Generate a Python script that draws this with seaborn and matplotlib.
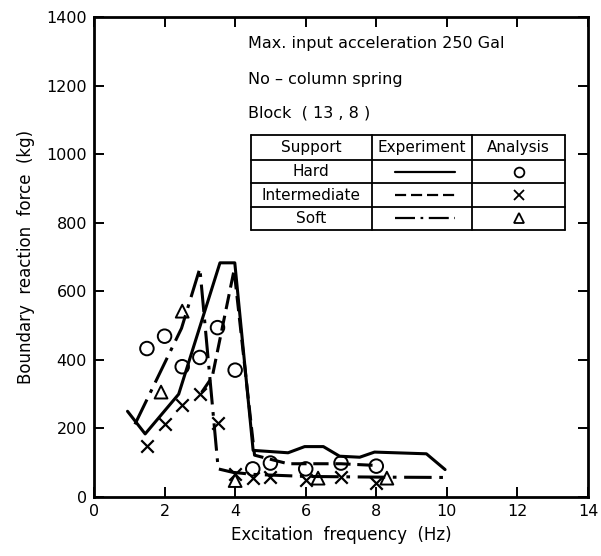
import matplotlib
matplotlib.use("Agg")
import matplotlib.pyplot as plt
import seaborn as sns
import pandas as pd

# Experiment curves (boundary reaction force, kg, vs. excitation frequency, Hz)
hard_freq = [0.95, 1.45, 2.4, 3.57, 3.99, 4.51, 5.5, 5.97, 6.5, 6.96, 7.53, 7.95, 9.42, 9.95]
hard_force = [250, 184, 300, 683, 683, 136, 129, 147, 147, 119, 116, 131, 126, 80]

inter_freq = [3.05, 3.35, 3.97, 4.55, 5.0, 5.5, 7.0, 8.0]
inter_force = [305, 350, 662, 122, 110, 97, 97, 92]

soft_freq = [1.16, 2.48, 3.0, 3.52, 3.93, 4.5, 6.0, 8.0, 9.95]
soft_force = [212, 492, 667, 82, 72, 66, 60, 58, 57]

# Analysis results
hard_an_freq = [1.5, 2.0, 2.5, 3.0, 3.5, 4.0, 4.5, 5.0, 6.0, 7.0, 8.0]
hard_an_force = [433, 469, 380, 407, 494, 370, 82, 99, 82, 99, 90]

inter_an_freq = [1.5, 2.0, 2.5, 3.0, 3.5, 4.0, 4.5, 5.0, 6.0, 7.0, 8.0]
inter_an_force = [150, 212, 267, 301, 217, 67, 55, 59, 51, 58, 41]

soft_an_freq = [1.9, 2.5, 4.0, 6.35, 8.3]
soft_an_force = [306, 542, 48, 55, 55]

x_ticks = [0, 2, 4, 6, 8, 10, 12, 14]
y_ticks = [0, 200, 400, 600, 800, 1000, 1200, 1400]

notes = ["Max. input acceleration 250 Gal", "No \u2013 column spring", "Block  ( 13 , 8 )"]
table_header = ["Support", "Experiment", "Analysis"]
supports = ["Hard", "Intermediate", "Soft"]

sns.set_style("ticks")
plt.rcParams["font.family"] = ["DejaVu Sans"]
plt.rcParams.update({"text.color": "black", "axes.labelcolor": "black",
                     "xtick.color": "black", "ytick.color": "black"})

fig = plt.figure(figsize=(6.01, 5.56), dpi=100)
ax = fig.add_axes([94 / 601, 59 / 556, 494 / 601, 480 / 556])

dashdot = (0, (9, 2.5, 1.2, 2.5))
line_styles = ["-", (0, (5, 2.2)), dashdot]
exp_sets = [(hard_freq, hard_force), (inter_freq, inter_force), (soft_freq, soft_force)]
for (fx, fy), ls in zip(exp_sets, line_styles):
    df = pd.DataFrame({"f": fx, "F": fy})
    sns.lineplot(data=df, x="f", y="F", ax=ax, color="black", lw=2.2,
                 linestyle=ls, sort=False, estimator=None)

sns.scatterplot(x=hard_an_freq, y=hard_an_force, ax=ax, marker="o", s=95,
                facecolors="none", edgecolor="black", linewidth=1.4, zorder=3)
sns.scatterplot(x=inter_an_freq, y=inter_an_force, ax=ax, marker="x", s=80,
                color="black", linewidth=1.6, zorder=3)
sns.scatterplot(x=soft_an_freq, y=soft_an_force, ax=ax, marker="^", s=85,
                facecolors="none", edgecolor="black", linewidth=1.4, zorder=3)

ax.set_xlim(0, 14)
ax.set_ylim(0, 1400)
ax.set_xticks(x_ticks)
ax.set_yticks(y_ticks)
ax.set_xticklabels([str(t) for t in x_ticks], fontsize=11.5)
ax.set_yticklabels([str(t) for t in y_ticks], fontsize=11.5)
ax.tick_params(direction="in", length=7, width=1.4, top=True, right=True, pad=5)
for sp in ax.spines.values():
    sp.set_linewidth(2.0)
    sp.set_color("black")
ax.set_xlabel("Excitation  frequency  (Hz)", fontsize=12, labelpad=5)
ax.set_ylabel("Boundary  reaction  force  (kg)", fontsize=12, labelpad=8)

# Notes
for txt, yy in zip(notes, [0.944, 0.869, 0.800]):
    ax.text(0.312, yy, txt, transform=ax.transAxes, fontsize=11.5, va="center", ha="left")

# Legend table
tr = ax.transAxes
col_x = [0.3172, 0.5621, 0.7658, 0.9534]
row_y = [0.754, 0.702, 0.654, 0.604, 0.557]
for yy in row_y:
    ax.plot([col_x[0], col_x[-1]], [yy, yy], transform=tr, color="black", lw=1.3, clip_on=False)
for xx in col_x:
    ax.plot([xx, xx], [row_y[0], row_y[-1]], transform=tr, color="black", lw=1.3, clip_on=False)

col_c = [(col_x[i] + col_x[i + 1]) / 2 for i in range(3)]
row_c = [(row_y[i] + row_y[i + 1]) / 2 for i in range(4)]
for txt, cx in zip(table_header, col_c):
    ax.text(cx, row_c[0], txt, transform=tr, fontsize=11, ha="center", va="center")
marker_specs = [("o", "none"), ("x", "black"), ("^", "none")]
for i, (name, ls, (mk, fc)) in enumerate(zip(supports, line_styles, marker_specs)):
    yc = row_c[i + 1]
    ax.text(col_c[0], yc, name, transform=tr, fontsize=11, ha="center", va="center")
    ax.plot([0.609, 0.731], [yc, yc], transform=tr, color="black", lw=1.6, linestyle=ls)
    ax.plot([col_c[2]], [yc], transform=tr, marker=mk, ms=7, mfc=fc, mec="black",
            mew=1.3, color="black", linestyle="none")

fig.savefig("out.png", dpi=100)
